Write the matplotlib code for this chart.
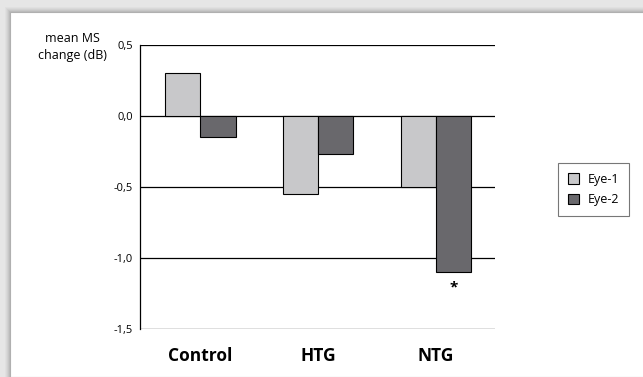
import numpy as np
import matplotlib.pyplot as plt
from matplotlib.patches import Rectangle

groups = ["Control", "HTG", "NTG"]
eye1 = [0.30, -0.55, -0.50]
eye2 = [-0.15, -0.27, -1.10]
series_names = ["Eye-1", "Eye-2"]
yticks = [0.5, 0.0, -0.5, -1.0, -1.5]
ytick_labels = ["0,5", "0,0", "-0,5", "-1,0", "-1,5"]

plt.rcParams['font.family'] = ['Open Sans', 'DejaVu Sans']

fig = plt.figure(figsize=(6.43, 3.77), dpi=100, facecolor="#e6e6e6")

# framed panel with a soft shadow on top/left
for i, a in enumerate([0.06, 0.08, 0.10, 0.14, 0.2]):
    fig.patches.append(Rectangle((10 / 643 - (5 - i) / 643, 0), 1, 1 - 12 / 377 + (5 - i) / 377,
                                 transform=fig.transFigure, facecolor="#909090", alpha=a,
                                 edgecolor="none", zorder=-2))
fig.patches.append(Rectangle((10 / 643, 0), 1, 1 - 12 / 377, transform=fig.transFigure,
                             facecolor="white", edgecolor="#b0b0b0", linewidth=0.8, zorder=-1))

ax = fig.add_axes([140 / 643, 1 - 329 / 377, 355 / 643, 284 / 377])
ax.set_facecolor("none")

x = np.arange(len(groups))
w = 0.3
ax.bar(x - w / 2, eye1, w, color="#c8c8ca", edgecolor="black", linewidth=0.8,
       label=series_names[0], zorder=3)
ax.bar(x + w / 2, eye2, w, color="#69686c", edgecolor="black", linewidth=0.8,
       label=series_names[1], zorder=3)

for y in yticks:
    ax.axhline(y, color="black", linewidth=0.9, zorder=2)

ax.set_xlim(-0.51, 2.5)
ax.set_ylim(-1.5, 0.5)
ax.set_yticks(yticks)
ax.set_yticklabels(ytick_labels, fontsize=8)
ax.tick_params(axis="y", length=0, pad=5)
ax.set_xticks(x)
ax.set_xticklabels(groups, fontsize=12.5, fontweight="bold")
ax.tick_params(axis="x", length=0, pad=13)
for s in ["top", "right", "bottom"]:
    ax.spines[s].set_visible(False)
ax.spines["left"].set_linewidth(0.9)

# significance marker under NTG Eye-2
ax.annotate("*", xy=(x[2] + w / 2, eye2[2]), xytext=(0, -11), textcoords="offset points",
            ha="center", va="center", fontsize=11, fontweight="bold")

fig.text(72 / 643, 1 - 47 / 377, "mean MS\nchange (dB)", ha="center", va="center",
         fontsize=9, linespacing=1.35)

leg = ax.legend(loc="upper left", bbox_to_anchor=(552 / 643, 1 - 157 / 377),
                bbox_transform=fig.transFigure, fontsize=9, frameon=True, fancybox=False,
                edgecolor="#555555", handlelength=0.9, handleheight=0.9, handletextpad=0.7,
                borderpad=0.75, labelspacing=0.6)
leg.get_frame().set_linewidth(0.8)

fig.savefig("out.png", dpi=100, facecolor=fig.get_facecolor())
